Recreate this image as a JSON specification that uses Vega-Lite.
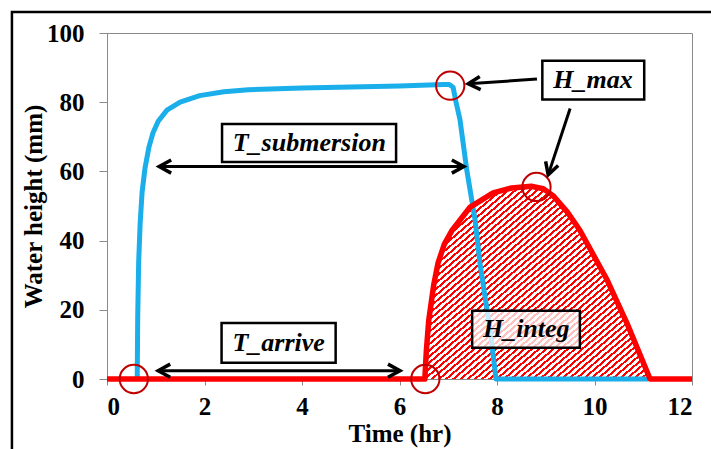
{
  "$schema": "https://vega.github.io/schema/vega-lite/v6.json",
  "autosize": {"type": "none"},
  "padding": {"left": 107, "top": 33, "right": 19, "bottom": 70},
  "width": 585,
  "height": 346,
  "background": "white",
  "config": {
    "view": {"stroke": "#8a8a8a", "strokeWidth": 1},
    "font": "Liberation Serif"
  },
  "datasets": {
    "blue": [
      {"t": 0.62, "h": 0}, {"t": 0.63, "h": 18}, {"t": 0.65, "h": 34}, {"t": 0.68, "h": 45},
      {"t": 0.72, "h": 54}, {"t": 0.78, "h": 61}, {"t": 0.86, "h": 67}, {"t": 0.94, "h": 71},
      {"t": 1.05, "h": 74.5}, {"t": 1.23, "h": 77.7}, {"t": 1.5, "h": 80}, {"t": 1.9, "h": 81.9},
      {"t": 2.4, "h": 83}, {"t": 2.9, "h": 83.6}, {"t": 4, "h": 84.1}, {"t": 5, "h": 84.4},
      {"t": 6, "h": 84.7}, {"t": 6.9, "h": 85.1}, {"t": 7.02, "h": 85.1}, {"t": 7.1, "h": 84.3},
      {"t": 7.16, "h": 80}, {"t": 7.24, "h": 75}, {"t": 7.38, "h": 60.4}, {"t": 7.55, "h": 46},
      {"t": 7.65, "h": 33.5}, {"t": 7.86, "h": 14}, {"t": 7.98, "h": 0}, {"t": 11.1, "h": 0}
    ],
    "red": [
      {"t": 0, "h": 0}, {"t": 6.52, "h": 0}, {"t": 6.55, "h": 8}, {"t": 6.6, "h": 17},
      {"t": 6.7, "h": 27}, {"t": 6.79, "h": 33.5}, {"t": 6.92, "h": 39}, {"t": 7.08, "h": 43},
      {"t": 7.45, "h": 49.7}, {"t": 7.92, "h": 53.8}, {"t": 8.3, "h": 55.2}, {"t": 8.7, "h": 55.7},
      {"t": 8.95, "h": 55}, {"t": 9.15, "h": 53}, {"t": 9.44, "h": 48.3}, {"t": 9.7, "h": 43},
      {"t": 10.26, "h": 28.6}, {"t": 10.67, "h": 16}, {"t": 11.14, "h": 0}, {"t": 12, "h": 0}
    ],
    "circles": [
      {"t": 0.55, "h": 0}, {"t": 6.53, "h": 0}, {"t": 7.04, "h": 84.8}, {"t": 8.81, "h": 55.5}
    ],
    "arrows": [
      {"x1": 1.07, "x2": 7.32, "y1": 61.4, "y2": 61.4},
      {"x1": 1.05, "x2": 6.01, "y1": 2.4, "y2": 2.4},
      {"x1": 8.82, "x2": 7.41, "y1": 86.7, "y2": 85.3},
      {"x1": 9.5, "x2": 9.05, "y1": 78.2, "y2": 59.0}
    ],
    "heads": [
      {"t": 7.32, "h": 61.4, "dir": "right"},
      {"t": 6.01, "h": 2.4, "dir": "right"},
      {"t": 1.07, "h": 61.4, "dir": "left"},
      {"t": 1.05, "h": 2.4, "dir": "left"},
      {"t": 7.41, "h": 85.3, "dir": "d1"},
      {"t": 9.05, "h": 59.0, "dir": "d2"}
    ],
    "boxes": [
      {"x1": 2.36, "x2": 5.93, "y1": 73.7, "y2": 62.7, "xm": 4.15, "ym": 68.2, "label": "T_submersion"},
      {"x1": 2.35, "x2": 4.69, "y1": 16.2, "y2": 4.7, "xm": 3.52, "ym": 10.45, "label": "T_arrive"},
      {"x1": 8.93, "x2": 11.02, "y1": 92, "y2": 80.8, "xm": 9.97, "ym": 86.4, "label": "H_max"},
      {"x1": 7.49, "x2": 9.7, "y1": 19.7, "y2": 9.0, "xm": 8.6, "ym": 14.35, "label": "H_integ"}
    ]
  },
  "encoding": {
    "x": {
      "type": "quantitative",
      "scale": {"domain": [0, 12], "nice": false},
      "axis": {
        "title": "Time (hr)", "values": [0, 2, 4, 6, 8, 10, 12], "grid": false,
        "domainColor": "#8a8a8a", "tickColor": "#8a8a8a", "tickSize": 6,
        "labelFont": "Liberation Serif", "labelFontSize": 25, "labelFontWeight": "bold", "labelColor": "black",
        "labelPadding": 9,
        "titleFont": "Liberation Serif", "titleFontSize": 25, "titleFontWeight": "bold", "titleColor": "black",
        "titlePadding": 2
      }
    },
    "y": {
      "type": "quantitative",
      "scale": {"domain": [0, 100], "nice": false},
      "axis": {
        "title": "Water height (mm)", "values": [0, 20, 40, 60, 80, 100], "grid": false,
        "domainColor": "#8a8a8a", "tickColor": "#8a8a8a", "tickSize": 8,
        "labelFont": "Liberation Serif", "labelFontSize": 25, "labelFontWeight": "bold", "labelColor": "black",
        "labelPadding": 15,
        "titleFont": "Liberation Serif", "titleFontSize": 25, "titleFontWeight": "bold", "titleColor": "black",
        "titlePadding": 0
      }
    }
  },
  "layer": [
    {
      "data": {"values": [{}]},
      "mark": {"type": "rect", "fillOpacity": 0, "stroke": "black", "strokeWidth": 2.5},
      "encoding": {
        "x": {"datum": -1.95, "type": "quantitative"},
        "x2": {"datum": 13},
        "y": {"datum": 106.1, "type": "quantitative"},
        "y2": {"datum": -30}
      }
    },
    {
      "data": {"name": "red"},
      "transform": [{"filter": "datum.t >= 6.52 && datum.t <= 11.14"}],
      "mark": {
        "type": "area",
        "fill": {
          "gradient": "linear", "x1": 0, "y1": 0, "x2": 1, "y2": 1,
          "stops": [
            {"offset":0,"color":"#f00"},{"offset":0.007,"color":"#f00"},{"offset":0.007,"color":"#fff"},{"offset":0.016,"color":"#fff"},
            {"offset":0.016,"color":"#f00"},{"offset":0.023,"color":"#f00"},{"offset":0.023,"color":"#fff"},{"offset":0.032,"color":"#fff"},
            {"offset":0.032,"color":"#f00"},{"offset":0.039,"color":"#f00"},{"offset":0.039,"color":"#fff"},{"offset":0.048,"color":"#fff"},
            {"offset":0.048,"color":"#f00"},{"offset":0.055,"color":"#f00"},{"offset":0.055,"color":"#fff"},{"offset":0.064,"color":"#fff"},
            {"offset":0.064,"color":"#f00"},{"offset":0.071,"color":"#f00"},{"offset":0.071,"color":"#fff"},{"offset":0.08,"color":"#fff"},
            {"offset":0.08,"color":"#f00"},{"offset":0.087,"color":"#f00"},{"offset":0.087,"color":"#fff"},{"offset":0.096,"color":"#fff"},
            {"offset":0.096,"color":"#f00"},{"offset":0.103,"color":"#f00"},{"offset":0.103,"color":"#fff"},{"offset":0.112,"color":"#fff"},
            {"offset":0.112,"color":"#f00"},{"offset":0.119,"color":"#f00"},{"offset":0.119,"color":"#fff"},{"offset":0.128,"color":"#fff"},
            {"offset":0.128,"color":"#f00"},{"offset":0.135,"color":"#f00"},{"offset":0.135,"color":"#fff"},{"offset":0.144,"color":"#fff"},
            {"offset":0.144,"color":"#f00"},{"offset":0.151,"color":"#f00"},{"offset":0.151,"color":"#fff"},{"offset":0.16,"color":"#fff"},
            {"offset":0.16,"color":"#f00"},{"offset":0.167,"color":"#f00"},{"offset":0.167,"color":"#fff"},{"offset":0.176,"color":"#fff"},
            {"offset":0.176,"color":"#f00"},{"offset":0.183,"color":"#f00"},{"offset":0.183,"color":"#fff"},{"offset":0.192,"color":"#fff"},
            {"offset":0.192,"color":"#f00"},{"offset":0.199,"color":"#f00"},{"offset":0.199,"color":"#fff"},{"offset":0.208,"color":"#fff"},
            {"offset":0.208,"color":"#f00"},{"offset":0.215,"color":"#f00"},{"offset":0.215,"color":"#fff"},{"offset":0.224,"color":"#fff"},
            {"offset":0.224,"color":"#f00"},{"offset":0.231,"color":"#f00"},{"offset":0.231,"color":"#fff"},{"offset":0.24,"color":"#fff"},
            {"offset":0.24,"color":"#f00"},{"offset":0.247,"color":"#f00"},{"offset":0.247,"color":"#fff"},{"offset":0.256,"color":"#fff"},
            {"offset":0.256,"color":"#f00"},{"offset":0.263,"color":"#f00"},{"offset":0.263,"color":"#fff"},{"offset":0.272,"color":"#fff"},
            {"offset":0.272,"color":"#f00"},{"offset":0.279,"color":"#f00"},{"offset":0.279,"color":"#fff"},{"offset":0.288,"color":"#fff"},
            {"offset":0.288,"color":"#f00"},{"offset":0.295,"color":"#f00"},{"offset":0.295,"color":"#fff"},{"offset":0.304,"color":"#fff"},
            {"offset":0.304,"color":"#f00"},{"offset":0.311,"color":"#f00"},{"offset":0.311,"color":"#fff"},{"offset":0.32,"color":"#fff"},
            {"offset":0.32,"color":"#f00"},{"offset":0.327,"color":"#f00"},{"offset":0.327,"color":"#fff"},{"offset":0.336,"color":"#fff"},
            {"offset":0.336,"color":"#f00"},{"offset":0.343,"color":"#f00"},{"offset":0.343,"color":"#fff"},{"offset":0.352,"color":"#fff"},
            {"offset":0.352,"color":"#f00"},{"offset":0.359,"color":"#f00"},{"offset":0.359,"color":"#fff"},{"offset":0.368,"color":"#fff"},
            {"offset":0.368,"color":"#f00"},{"offset":0.375,"color":"#f00"},{"offset":0.375,"color":"#fff"},{"offset":0.384,"color":"#fff"},
            {"offset":0.384,"color":"#f00"},{"offset":0.391,"color":"#f00"},{"offset":0.391,"color":"#fff"},{"offset":0.4,"color":"#fff"},
            {"offset":0.4,"color":"#f00"},{"offset":0.407,"color":"#f00"},{"offset":0.407,"color":"#fff"},{"offset":0.416,"color":"#fff"},
            {"offset":0.416,"color":"#f00"},{"offset":0.423,"color":"#f00"},{"offset":0.423,"color":"#fff"},{"offset":0.432,"color":"#fff"},
            {"offset":0.432,"color":"#f00"},{"offset":0.439,"color":"#f00"},{"offset":0.439,"color":"#fff"},{"offset":0.448,"color":"#fff"},
            {"offset":0.448,"color":"#f00"},{"offset":0.455,"color":"#f00"},{"offset":0.455,"color":"#fff"},{"offset":0.464,"color":"#fff"},
            {"offset":0.464,"color":"#f00"},{"offset":0.471,"color":"#f00"},{"offset":0.471,"color":"#fff"},{"offset":0.48,"color":"#fff"},
            {"offset":0.48,"color":"#f00"},{"offset":0.487,"color":"#f00"},{"offset":0.487,"color":"#fff"},{"offset":0.496,"color":"#fff"},
            {"offset":0.496,"color":"#f00"},{"offset":0.503,"color":"#f00"},{"offset":0.503,"color":"#fff"},{"offset":0.512,"color":"#fff"},
            {"offset":0.512,"color":"#f00"},{"offset":0.519,"color":"#f00"},{"offset":0.519,"color":"#fff"},{"offset":0.528,"color":"#fff"},
            {"offset":0.528,"color":"#f00"},{"offset":0.535,"color":"#f00"},{"offset":0.535,"color":"#fff"},{"offset":0.544,"color":"#fff"},
            {"offset":0.544,"color":"#f00"},{"offset":0.551,"color":"#f00"},{"offset":0.551,"color":"#fff"},{"offset":0.56,"color":"#fff"},
            {"offset":0.56,"color":"#f00"},{"offset":0.567,"color":"#f00"},{"offset":0.567,"color":"#fff"},{"offset":0.576,"color":"#fff"},
            {"offset":0.576,"color":"#f00"},{"offset":0.583,"color":"#f00"},{"offset":0.583,"color":"#fff"},{"offset":0.592,"color":"#fff"},
            {"offset":0.592,"color":"#f00"},{"offset":0.599,"color":"#f00"},{"offset":0.599,"color":"#fff"},{"offset":0.608,"color":"#fff"},
            {"offset":0.608,"color":"#f00"},{"offset":0.615,"color":"#f00"},{"offset":0.615,"color":"#fff"},{"offset":0.624,"color":"#fff"},
            {"offset":0.624,"color":"#f00"},{"offset":0.631,"color":"#f00"},{"offset":0.631,"color":"#fff"},{"offset":0.64,"color":"#fff"},
            {"offset":0.64,"color":"#f00"},{"offset":0.647,"color":"#f00"},{"offset":0.647,"color":"#fff"},{"offset":0.656,"color":"#fff"},
            {"offset":0.656,"color":"#f00"},{"offset":0.663,"color":"#f00"},{"offset":0.663,"color":"#fff"},{"offset":0.672,"color":"#fff"},
            {"offset":0.672,"color":"#f00"},{"offset":0.679,"color":"#f00"},{"offset":0.679,"color":"#fff"},{"offset":0.688,"color":"#fff"},
            {"offset":0.688,"color":"#f00"},{"offset":0.695,"color":"#f00"},{"offset":0.695,"color":"#fff"},{"offset":0.704,"color":"#fff"},
            {"offset":0.704,"color":"#f00"},{"offset":0.711,"color":"#f00"},{"offset":0.711,"color":"#fff"},{"offset":0.72,"color":"#fff"},
            {"offset":0.72,"color":"#f00"},{"offset":0.727,"color":"#f00"},{"offset":0.727,"color":"#fff"},{"offset":0.736,"color":"#fff"},
            {"offset":0.736,"color":"#f00"},{"offset":0.743,"color":"#f00"},{"offset":0.743,"color":"#fff"},{"offset":0.752,"color":"#fff"},
            {"offset":0.752,"color":"#f00"},{"offset":0.759,"color":"#f00"},{"offset":0.759,"color":"#fff"},{"offset":0.768,"color":"#fff"},
            {"offset":0.768,"color":"#f00"},{"offset":0.775,"color":"#f00"},{"offset":0.775,"color":"#fff"},{"offset":0.784,"color":"#fff"},
            {"offset":0.784,"color":"#f00"},{"offset":0.791,"color":"#f00"},{"offset":0.791,"color":"#fff"},{"offset":0.8,"color":"#fff"},
            {"offset":0.8,"color":"#f00"},{"offset":0.807,"color":"#f00"},{"offset":0.807,"color":"#fff"},{"offset":0.816,"color":"#fff"},
            {"offset":0.816,"color":"#f00"},{"offset":0.823,"color":"#f00"},{"offset":0.823,"color":"#fff"},{"offset":0.832,"color":"#fff"},
            {"offset":0.832,"color":"#f00"},{"offset":0.839,"color":"#f00"},{"offset":0.839,"color":"#fff"},{"offset":0.848,"color":"#fff"},
            {"offset":0.848,"color":"#f00"},{"offset":0.855,"color":"#f00"},{"offset":0.855,"color":"#fff"},{"offset":0.864,"color":"#fff"},
            {"offset":0.864,"color":"#f00"},{"offset":0.871,"color":"#f00"},{"offset":0.871,"color":"#fff"},{"offset":0.88,"color":"#fff"},
            {"offset":0.88,"color":"#f00"},{"offset":0.887,"color":"#f00"},{"offset":0.887,"color":"#fff"},{"offset":0.896,"color":"#fff"},
            {"offset":0.896,"color":"#f00"},{"offset":0.903,"color":"#f00"},{"offset":0.903,"color":"#fff"},{"offset":0.912,"color":"#fff"},
            {"offset":0.912,"color":"#f00"},{"offset":0.919,"color":"#f00"},{"offset":0.919,"color":"#fff"},{"offset":0.928,"color":"#fff"},
            {"offset":0.928,"color":"#f00"},{"offset":0.935,"color":"#f00"},{"offset":0.935,"color":"#fff"},{"offset":0.944,"color":"#fff"},
            {"offset":0.944,"color":"#f00"},{"offset":0.951,"color":"#f00"},{"offset":0.951,"color":"#fff"},{"offset":0.96,"color":"#fff"},
            {"offset":0.96,"color":"#f00"},{"offset":0.967,"color":"#f00"},{"offset":0.967,"color":"#fff"},{"offset":0.976,"color":"#fff"},
            {"offset":0.976,"color":"#f00"},{"offset":0.983,"color":"#f00"},{"offset":0.983,"color":"#fff"},{"offset":0.992,"color":"#fff"},
            {"offset":0.992,"color":"#f00"},{"offset":0.999,"color":"#f00"},{"offset":0.999,"color":"#fff"},{"offset":1,"color":"#fff"}
          ]
        }
      },
      "encoding": {"x": {"field": "t"}, "y": {"field": "h"}}
    },
    {
      "data": {"name": "blue"},
      "mark": {"type": "line", "color": "#1aaeea", "strokeWidth": 5, "strokeJoin": "round"},
      "encoding": {"x": {"field": "t"}, "y": {"field": "h"}}
    },
    {
      "data": {"name": "red"},
      "mark": {"type": "line", "color": "#ff0000", "strokeWidth": 5.5, "strokeJoin": "round"},
      "encoding": {"x": {"field": "t"}, "y": {"field": "h"}}
    },
    {
      "data": {"name": "circles"},
      "mark": {"type": "point", "shape": "circle", "filled": false, "stroke": "#c00000", "strokeWidth": 2, "size": 800, "opacity": 1},
      "encoding": {"x": {"field": "t"}, "y": {"field": "h"}}
    },
    {
      "data": {"name": "arrows"},
      "mark": {"type": "rule", "color": "black", "strokeWidth": 3},
      "encoding": {"x": {"field": "x1"}, "x2": {"field": "x2"}, "y": {"field": "y1"}, "y2": {"field": "y2"}}
    },
    {
      "data": {"name": "heads"},
      "transform": [{"filter": "datum.dir == 'right'"}],
      "mark": {"type": "point", "shape": "M-1,-0.55L0,0L-1,0.55", "filled": false, "stroke": "black", "strokeWidth": 3.5, "size": 576, "angle": 0, "opacity": 1, "strokeJoin": "miter"},
      "encoding": {"x": {"field": "t"}, "y": {"field": "h"}}
    },
    {
      "data": {"name": "heads"},
      "transform": [{"filter": "datum.dir == 'left'"}],
      "mark": {"type": "point", "shape": "M-1,-0.55L0,0L-1,0.55", "filled": false, "stroke": "black", "strokeWidth": 3.5, "size": 576, "angle": 180, "opacity": 1, "strokeJoin": "miter"},
      "encoding": {"x": {"field": "t"}, "y": {"field": "h"}}
    },
    {
      "data": {"name": "heads"},
      "transform": [{"filter": "datum.dir == 'd1'"}],
      "mark": {"type": "point", "shape": "M-1,-0.55L0,0L-1,0.55", "filled": false, "stroke": "black", "strokeWidth": 3.5, "size": 576, "angle": 176, "opacity": 1, "strokeJoin": "miter"},
      "encoding": {"x": {"field": "t"}, "y": {"field": "h"}}
    },
    {
      "data": {"name": "heads"},
      "transform": [{"filter": "datum.dir == 'd2'"}],
      "mark": {"type": "point", "shape": "M-1,-0.55L0,0L-1,0.55", "filled": false, "stroke": "black", "strokeWidth": 3.5, "size": 576, "angle": 108, "opacity": 1, "strokeJoin": "miter"},
      "encoding": {"x": {"field": "t"}, "y": {"field": "h"}}
    },
    {
      "data": {"name": "boxes"},
      "transform": [{"filter": "datum.label != 'H_integ'"}],
      "mark": {"type": "rect", "fill": "white", "stroke": "black", "strokeWidth": 2.5},
      "encoding": {"x": {"field": "x1"}, "x2": {"field": "x2"}, "y": {"field": "y1"}, "y2": {"field": "y2"}}
    },
    {
      "data": {"name": "boxes"},
      "transform": [{"filter": "datum.label == 'H_integ'"}],
      "mark": {"type": "rect", "fill": "white", "fillOpacity": 0.75, "stroke": "black", "strokeWidth": 2.5},
      "encoding": {"x": {"field": "x1"}, "x2": {"field": "x2"}, "y": {"field": "y1"}, "y2": {"field": "y2"}}
    },
    {
      "data": {"name": "boxes"},
      "mark": {"type": "text", "font": "Liberation Serif", "fontSize": 26, "fontWeight": "bold", "fontStyle": "italic", "color": "black", "align": "center", "baseline": "middle"},
      "encoding": {"x": {"field": "xm"}, "y": {"field": "ym"}, "text": {"field": "label"}}
    }
  ]
}
